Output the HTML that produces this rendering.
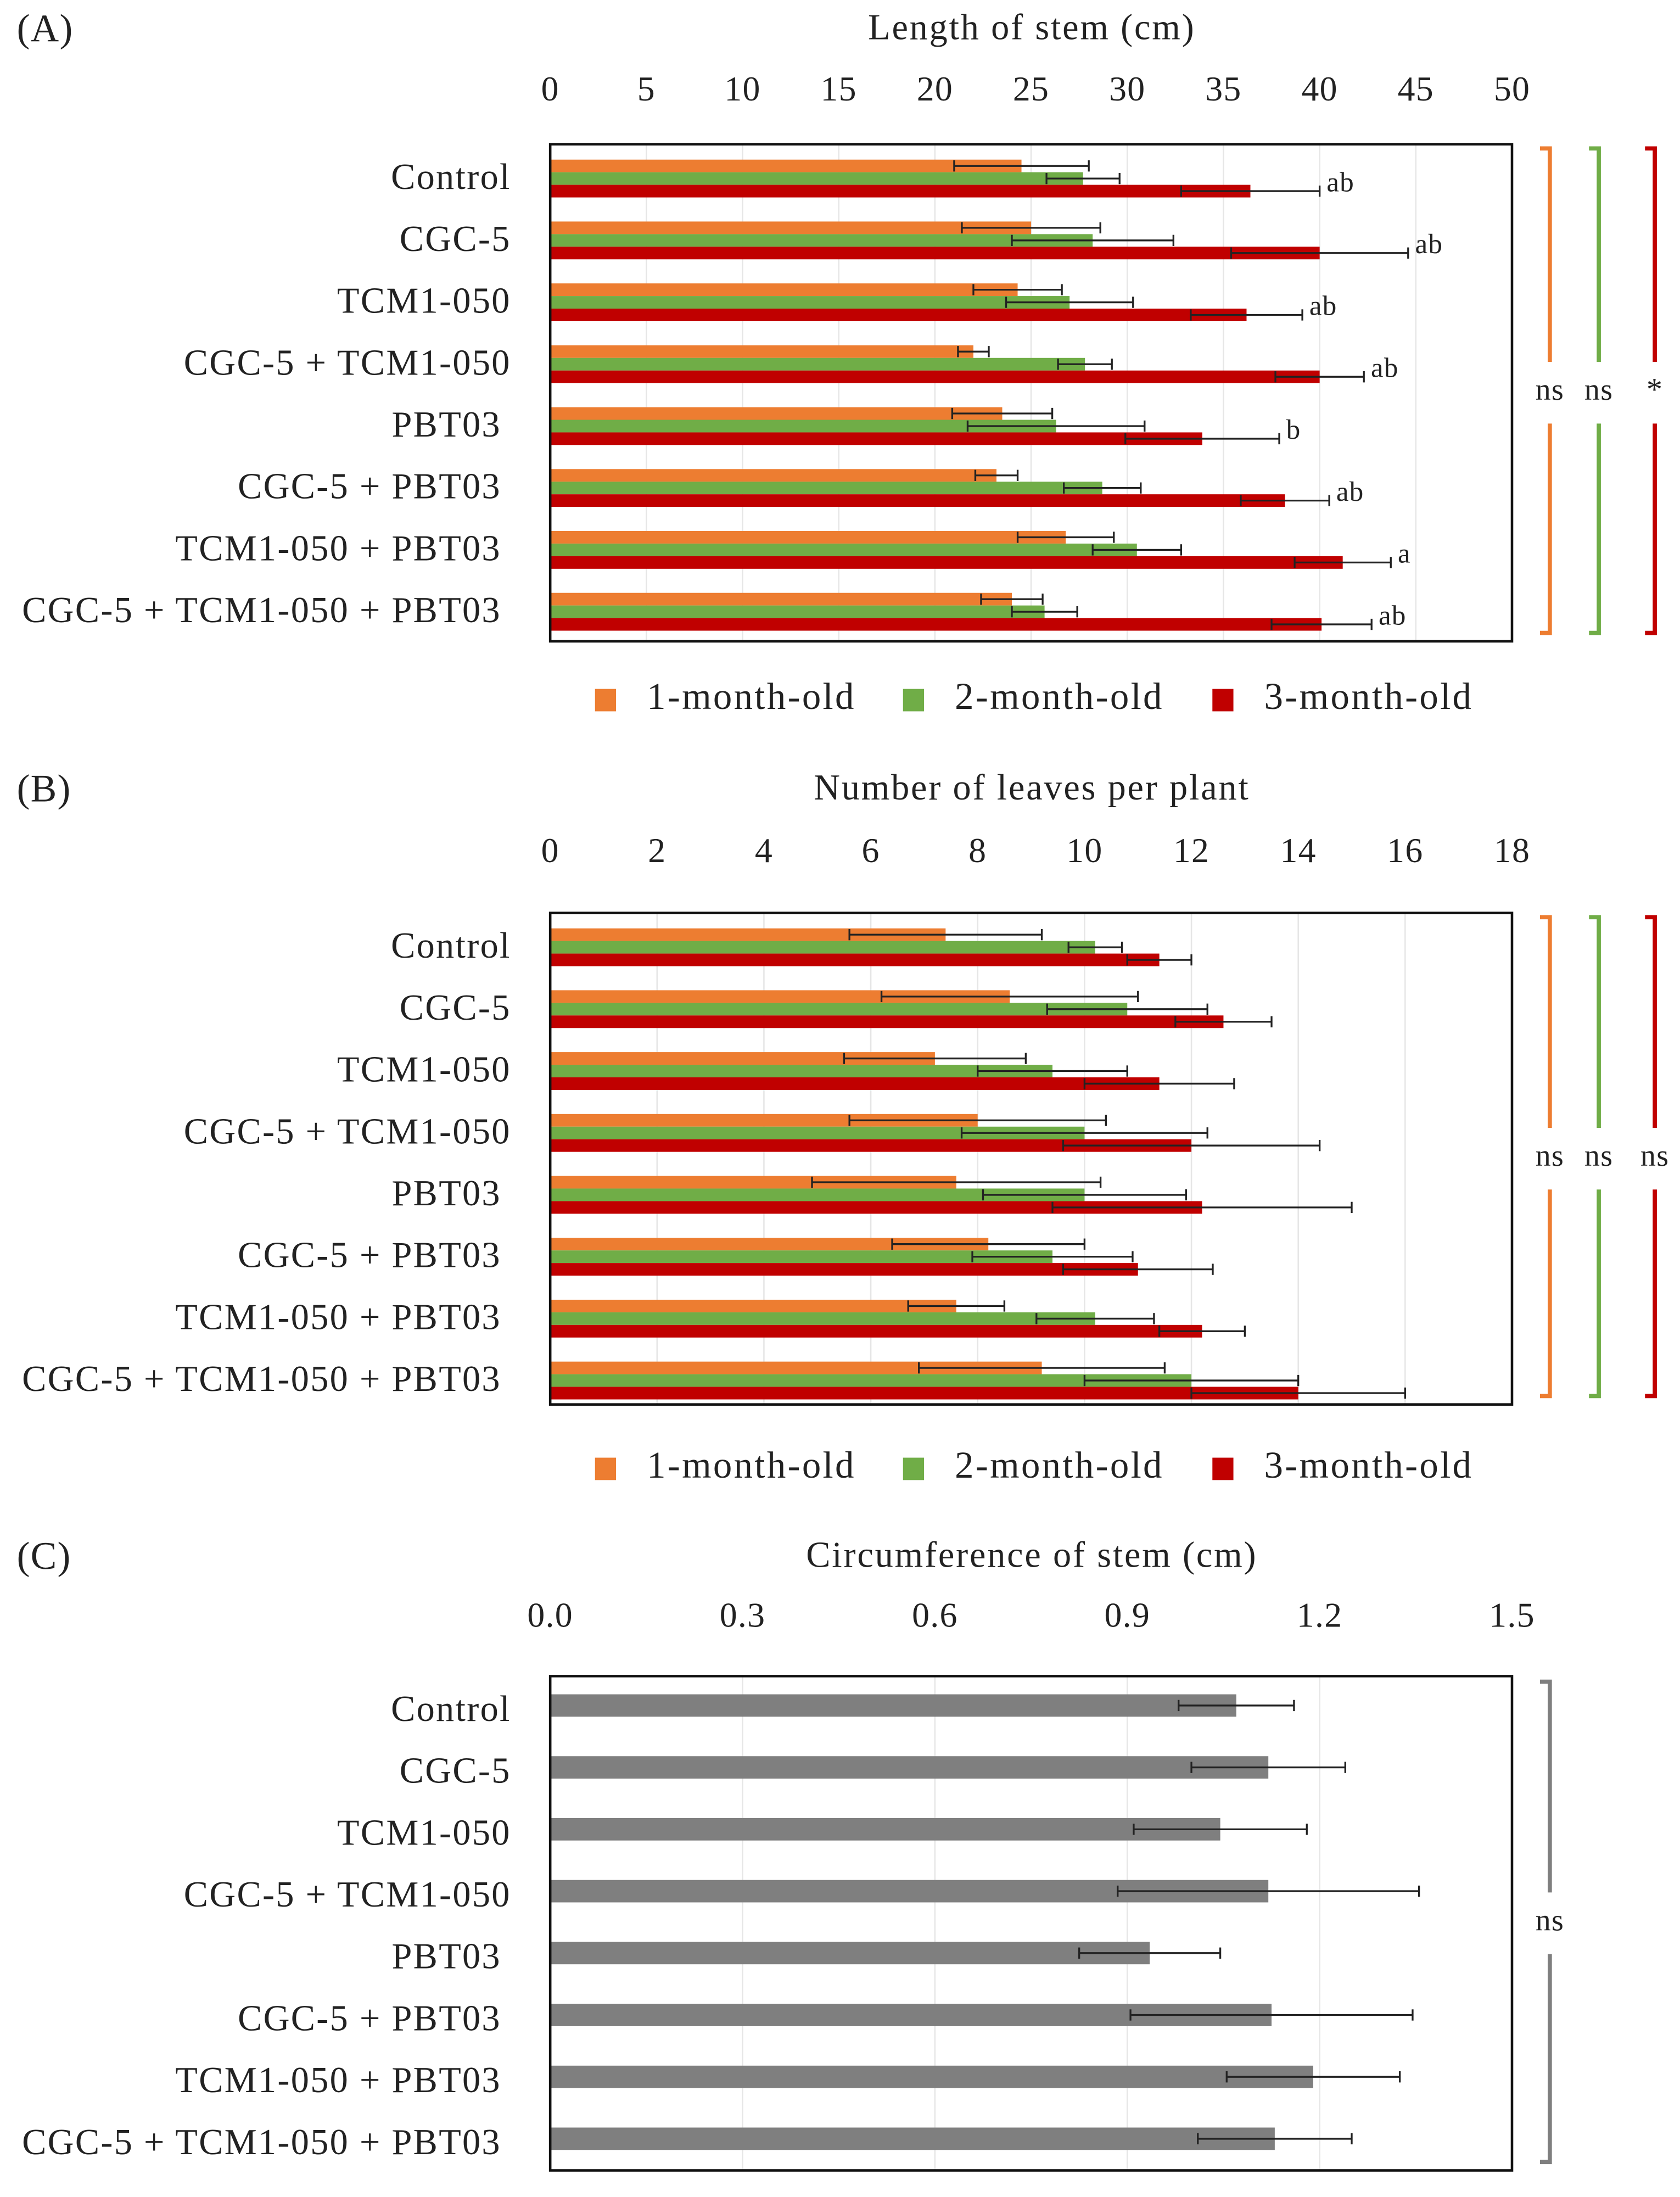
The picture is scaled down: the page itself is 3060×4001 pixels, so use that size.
<!DOCTYPE html>
<html><head><meta charset="utf-8"><style>
html,body{margin:0;padding:0;background:#fff}
svg{display:block}
text{font-family:"Liberation Serif",serif;fill:#222}
</style></head><body>
<svg id="fig" width="3060" height="4001" viewBox="0 0 1200 1569" preserveAspectRatio="none" xmlns="http://www.w3.org/2000/svg"></svg>
<script>
const categories = ["Control","CGC-5","TCM1-050","CGC-5 + TCM1-050","PBT03","CGC-5 + PBT03","TCM1-050 + PBT03","CGC-5 + TCM1-050 + PBT03"];
const seriesNames = ["1-month-old","2-month-old","3-month-old"];
const seriesColors = ["#ed7d31","#70ad47","#c00000"];
// Chart A: length of stem
const aTicks = [0,5,10,15,20,25,30,35,40,45,50];
const aM1 = [24.5,25,24.3,22,23.5,23.2,26.8,24];
const aM1e = [3.5,3.6,2.3,0.8,2.6,1.1,2.5,1.6];
const aM2 = [27.7,28.2,27,27.8,26.3,28.7,30.5,25.7];
const aM2e = [1.9,4.2,3.3,1.4,4.6,2.0,2.3,1.7];
const aM3 = [36.4,40,36.2,40,33.9,38.2,41.2,40.1];
const aM3e = [3.6,4.6,2.9,2.3,4.0,2.3,2.5,2.6];
const aLetters = ["ab","ab","ab","ab","b","ab","a","ab"];
const aSig = ["ns","ns","*"];
// Chart B: number of leaves
const bTicks = [0,2,4,6,8,10,12,14,16,18];
const bM1 = [7.4,8.6,7.2,8,7.6,8.2,7.6,9.2];
const bM1e = [1.8,2.4,1.7,2.4,2.7,1.8,0.9,2.3];
const bM2 = [10.2,10.8,9.4,10,10,9.4,10.2,12];
const bM2e = [0.5,1.5,1.4,2.3,1.9,1.5,1.1,2.0];
const bM3 = [11.4,12.6,11.4,12,12.2,11,12.2,14];
const bM3e = [0.6,0.9,1.4,2.4,2.8,1.4,0.8,2.0];
const bSig = ["ns","ns","ns"];
// Chart C: circumference
const cTicks = [0.0,0.3,0.6,0.9,1.2,1.5];
const cTickLabels = ["0.0","0.3","0.6","0.9","1.2","1.5"];
const cVals = [1.07,1.12,1.045,1.12,0.935,1.125,1.19,1.13];
const cErr = [0.09,0.12,0.135,0.235,0.11,0.22,0.135,0.12];
const cSig = "ns";

const NS="http://www.w3.org/2000/svg";
const svg=document.getElementById('fig');
function mk(tag,attrs,parent){const e=document.createElementNS(NS,tag);for(const k in attrs)e.setAttribute(k,attrs[k]);(parent||svg).appendChild(e);return e;}
function txt(x,y,s,size,anchor,parent,ls){const t=mk('text',{x:x,y:y,'font-size':size,'text-anchor':anchor||'start','dominant-baseline':'middle','letter-spacing':ls||0},parent);t.textContent=s;return t;}

const X0=393,X1=1080;
function errBar(g,xl,xr,y){
  const l=mk('line',{x1:xl,x2:xr,y1:y,y2:y,stroke:'#222','stroke-width':1.3},g);
  
  
  mk('line',{x1:xl,x2:xl,y1:y-4,y2:y+4,stroke:'#222','stroke-width':1.3},g);
  mk('line',{x1:xr,x2:xr,y1:y-4,y2:y+4,stroke:'#222','stroke-width':1.3},g);
}
function bracket(g,x,y0,y1,gapY,color,label){
  const p=mk('path',{d:`M${x-7},${y0} L${x},${y0} L${x},${gapY-22} M${x},${gapY+22} L${x},${y1} L${x-7},${y1}`,fill:'none',stroke:color,'stroke-width':3},g);
  
  
  const t=txt(x,gapY,label,label==='*'?23:22,'middle',g,0.5);
  
  
}
function axisFrame(g,top,bot,ticks,labels,max,tickY,title,titleY,panel){
  const xs=v=>X0+(X1-X0)*v/max;
  ticks.forEach((v,i)=>{
    if(i>0&&i<ticks.length-1){const gl=mk('line',{x1:xs(v),x2:xs(v),y1:top,y2:bot,stroke:'#e6e6e6','stroke-width':1},g);
      
      }
    const t=txt(xs(v),tickY,labels[i],25,'middle',g,0.5);
    
    
  });
  const tt=txt(737,titleY,title,26,'middle',g,1.1);
  
  
  const pl=txt(12,titleY+1,panel,28,'start',g,0.5);
  
  
  categories.forEach((c,i)=>{
    const t=txt(i<4?365:358,top+26+i*44.2,c,26,'end',g,0.9);
    
    
  });
  return xs;
}
function frame(g,top,bot){
  const r=mk('rect',{x:X0,y:top,width:X1-X0,height:bot-top,fill:'none',stroke:'#111','stroke-width':1.8},g);
  
  
}
function legend(g,y){
  const xs=[425,645,866];
  seriesNames.forEach((s,i)=>{
    const r=mk('rect',{x:xs[i],y:y-8,width:15,height:16,fill:seriesColors[i]},g);
    
    
    const t=txt(xs[i]+37,y,s,27,'start',g,1.3);
    
    
  });
}
function groupedChart(name,top,bot,ticks,max,tickY,title,titleY,panel,vals,errs,letters,sig,legY){
  const g=mk('g',{});
  
  
  const xs=axisFrame(g,top,bot,ticks,ticks.map(String),max,tickY,title,titleY,panel);
  categories.forEach((c,i)=>{
    const gy=top+11+i*44.2;
    for(let s=0;s<3;s++){
      const y=gy+s*9;
      const b=mk('rect',{x:X0,y:y,width:xs(vals[s][i])-X0,height:9,fill:seriesColors[s]},g);
      
      
      errBar(g,xs(vals[s][i]-errs[s][i]),xs(vals[s][i]+errs[s][i]),y+4.5);
    }
    if(letters){
      const t=txt(xs(vals[2][i]+errs[2][i])+5,gy+18,letters[i],20,'start',g,0.5);
      
      
    }
  });
  frame(g,top,bot);
  const mid=(top+bot)/2;
  bracket(g,1107,top+3,bot-6,mid,seriesColors[0],sig[0]);
  bracket(g,1142,top+3,bot-6,mid,seriesColors[1],sig[1]);
  bracket(g,1182,top+3,bot-6,mid,seriesColors[2],sig[2]);
  legend(g,legY);
}
groupedChart('chart-a-length-of-stem',103,458,aTicks,50,66,'Length of stem (cm)',22,'(A)',[aM1,aM2,aM3],[aM1e,aM2e,aM3e],aLetters,aSig,500);
groupedChart('chart-b-number-of-leaves',652,1003,bTicks,18,610,'Number of leaves per plant',565,'(B)',[bM1,bM2,bM3],[bM1e,bM2e,bM3e],null,bSig,1049);

(function(){
  const g=mk('g',{});
  
  
  const top=1197,bot=1550;
  const xs=axisFrame(g,top,bot,cTicks,cTickLabels,1.5,1156,'Circumference of stem (cm)',1113,'(C)');
  categories.forEach((c,i)=>{
    const cy=top+21+i*44.2;
    const b=mk('rect',{x:X0,y:cy-8,width:xs(cVals[i])-X0,height:16,fill:'#7f7f7f'},g);
    
    
    errBar(g,xs(cVals[i]-cErr[i]),xs(cVals[i]+cErr[i]),cy);
  });
  frame(g,top,bot);
  bracket(g,1107,top+4,bot-6,(top+bot)/2,'#7f7f7f',cSig);
})();
</script>
</body></html>
